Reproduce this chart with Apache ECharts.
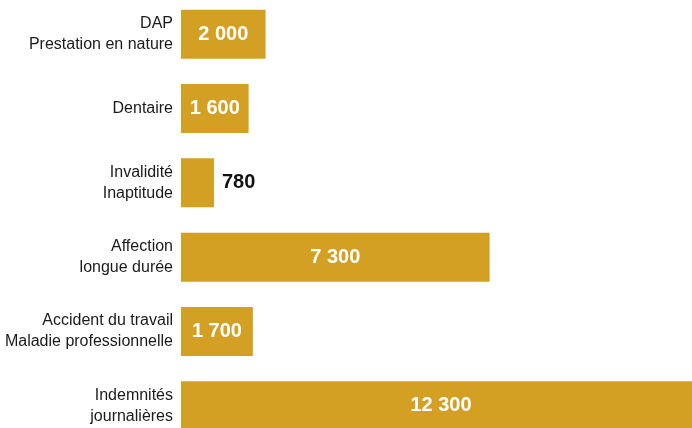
<!DOCTYPE html>
<html>
<head>
<meta charset="utf-8">
<script src="https://cdn.jsdelivr.net/npm/echarts@6/dist/echarts.min.js"></script>
<style>
  html, body { margin: 0; padding: 0; background: #fff; }
  #chart { width: 692px; height: 428px; }
</style>
</head>
<body>
<div id="chart"></div>
<script>
// categories, top to bottom
var categories = [
    "DAP\nPrestation en nature",
    "Dentaire",
    "Invalidité\nInaptitude",
    "Affection\nlongue durée",
    "Accident du travail\nMaladie professionnelle",
    "Indemnités\njournalières"
];
var values = [2000, 1600, 780, 7300, 1700, 12300];
// bars too short for the value to fit inside get it outside
var labelOutside = [false, false, true, false, false, false];

var fontName = "'Liberation Sans Narrow', 'Liberation Sans', Arial, sans-serif";

function fmt(v) {
    // espace comme séparateur de milliers
    return String(v).replace(/\B(?=(\d{3})+(?!\d))/g, " ");
}

var chart = echarts.init(document.getElementById("chart"));

var data = values.map(function (v, i) {
    var item = { value: v };
    if (labelOutside[i]) {
        item.label = { position: "right", distance: 8, color: "#111" };
    }
    return item;
});

chart.setOption({
    animation: false,
    // the grid runs a little past the canvas edges (last bar is cut off)
    grid: {
        left: 181, top: -3, width: 520, height: 446,
        containLabel: false,
        outerBoundsMode: "none"
    },
    xAxis: {
        type: "value",
        min: 0,
        max: 12300,
        show: false
    },
    yAxis: {
        type: "category",
        inverse: true,
        data: categories,
        axisLine: { show: false },
        axisTick: { show: false },
        axisLabel: {
            margin: 8,
            color: "#1a1a1a",
            fontFamily: fontName,
            fontSize: 16,
            lineHeight: 21,
            align: "right"
        }
    },
    series: [{
        type: "bar",
        data: data,
        barWidth: 49,
        itemStyle: { color: "#D4A024" },
        label: {
            show: true,
            position: "inside",
            color: "#fff",
            fontFamily: fontName,
            fontWeight: "bold",
            fontSize: 20,
            formatter: function (p) { return fmt(p.value); }
        }
    }]
});
</script>
</body>
</html>
